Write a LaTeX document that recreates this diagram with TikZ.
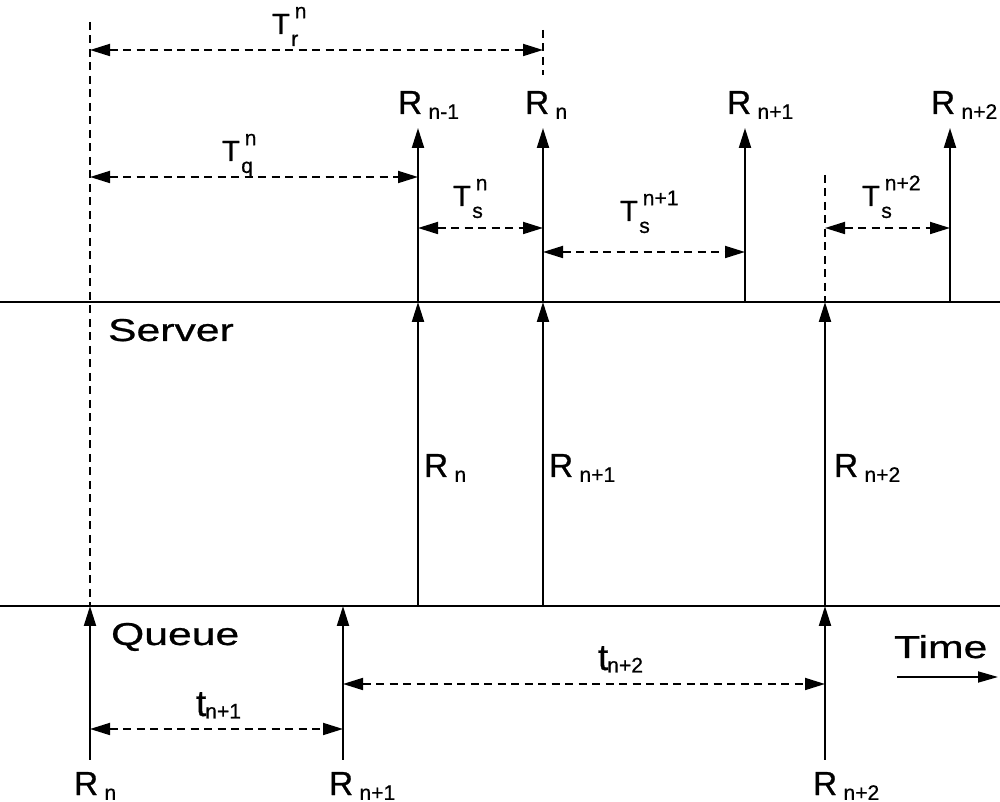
\documentclass[tikz,border=0pt]{standalone}
\usepackage{fontspec}
\setmainfont[FakeBold=0.7]{Liberation Sans}
\newfontfamily\widefont[FakeStretch=1.35,FakeBold=0.8]{Liberation Sans}
\usetikzlibrary{arrows.meta}

% request names and time spans
\newcommand{\rsub}[1]{{\fontsize{9.5}{11}\selectfont R}\hspace{1.8pt}\raisebox{-1.4pt}{\fontsize{6}{7}\selectfont #1}}
\newcommand{\tper}[2]{{\fontsize{8.3}{10}\selectfont T}\hspace{0.4pt}\rlap{\raisebox{-3.4pt}{\fontsize{6}{7}\selectfont #1}}\hspace{1pt}\raisebox{4.5pt}{\fontsize{6}{7}\selectfont #2}}
\newcommand{\tgap}[1]{{\fontsize{10.5}{12}\selectfont t}\hspace{-0.3pt}\raisebox{-0.7pt}{\fontsize{6}{7}\selectfont #1}}
\newcommand{\bigword}[1]{{\widefont\fontsize{9}{11}\selectfont #1}}

\begin{document}
\begin{tikzpicture}[x=0.1mm,y=-0.1mm,line width=0.6pt,
    tip/.style={-{Triangle[length=2mm,width=1.2mm]}},
    span/.style={{Triangle[length=2mm,width=1.2mm]}-{Triangle[length=2mm,width=1.2mm]},
        line width=0.5pt,dash pattern=on 0.8mm off 0.55mm},
    guide/.style={line width=0.5pt,dash pattern=on 0.8mm off 0.55mm},
    lab/.style={anchor=base west,inner sep=0pt}]
    \useasboundingbox (0,0) rectangle (1000,802);

    % time lines
    \coordinate (srvL) at (0,302);
    \coordinate (srvR) at (1000,302);
    \coordinate (queL) at (0,606);
    \coordinate (queR) at (1000,606);
    \draw (srvL) -- (srvR);
    \draw (queL) -- (queR);

    % arrivals at the queue
    \coordinate (inA) at (90,760);   \coordinate (qA) at (90,606);
    \coordinate (inB) at (343,760);  \coordinate (qB) at (343,606);
    \coordinate (inC) at (825,760);  \coordinate (qC) at (825,606);
    \draw[tip] (inA) -- (qA);
    \draw[tip] (inB) -- (qB);
    \draw[tip] (inC) -- (qC);

    % queue to server
    \coordinate (mA) at (418,606);   \coordinate (sA) at (418,302);
    \coordinate (mB) at (543,606);   \coordinate (sB) at (543,302);
    \coordinate (sC) at (825,302);
    \draw[tip] (mA) -- (sA);
    \draw[tip] (mB) -- (sB);
    \draw[tip] (qC) -- (sC);

    % departures from the server
    \coordinate (sD) at (745,302);   \coordinate (sE) at (950,302);
    \coordinate (outA) at (418,128); \coordinate (outB) at (543,128);
    \coordinate (outD) at (745,128); \coordinate (outE) at (950,128);
    \draw[tip] (sA) -- (outA);
    \draw[tip] (sB) -- (outB);
    \draw[tip] (sD) -- (outD);
    \draw[tip] (sE) -- (outE);

    % guide lines
    \coordinate (gA) at (90,22);
    \coordinate (gB) at (543,30);  \coordinate (gB2) at (543,75);
    \coordinate (gC) at (825,175);
    \draw[guide] (gA) -- (qA);
    \draw[guide] (gB) -- (gB2);
    \draw[guide] (gC) -- (sC);

    % spans
    \draw[span] (90,50) -- (543,50);
    \draw[span] (90,177) -- (418,177);
    \draw[span] (418,228) -- (543,228);
    \draw[span] (543,252) -- (745,252);
    \draw[span] (825,228) -- (950,228);
    \draw[span] (90,729) -- (343,729);
    \draw[span] (343,684) -- (825,684);

    \node[lab] (Tr) at (271,34) {\tper{r}{n}};
    \node[lab] (Tq) at (221,161) {\tper{q}{n}};
    \node[lab] (Ts1) at (452,206) {\tper{s}{n}};
    \node[lab] (Ts2) at (619,221) {\tper{s}{n+1}};
    \node[lab] (Ts3) at (861,206) {\tper{s}{n+2}};
    \node[lab] (t1) at (195,716) {\tgap{n+1}};
    \node[lab] (t2) at (597,670) {\tgap{n+2}};

    % request labels
    \node[lab] (Rtop0) at (397,114) {\rsub{n-1}};
    \node[lab] (Rtop1) at (524,114) {\rsub{n}};
    \node[lab] (Rtop2) at (726,114) {\rsub{n+1}};
    \node[lab] (Rtop3) at (930,114) {\rsub{n+2}};
    \node[lab] (Rmid1) at (423,477) {\rsub{n}};
    \node[lab] (Rmid2) at (548,477) {\rsub{n+1}};
    \node[lab] (Rmid3) at (833,477) {\rsub{n+2}};
    \node[lab] (Rbot1) at (73,795) {\rsub{n}};
    \node[lab] (Rbot2) at (328,795) {\rsub{n+1}};
    \node[lab] (Rbot3) at (812,795) {\rsub{n+2}};

    \node[lab] (server) at (107,341) {\bigword{Server}};
    \node[lab] (queue) at (110,645) {\bigword{Queue}};
    \node[lab] (time) at (893,658) {\bigword{Time}};
    \coordinate (tA) at (897,677);
    \coordinate (tB) at (998,677);
    \draw[line width=0.5pt,-{Triangle[length=2mm,width=1.1mm]}] (tA) -- (tB);
\end{tikzpicture}
\end{document}
